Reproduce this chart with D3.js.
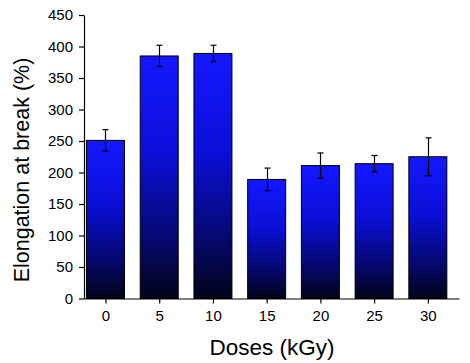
<!DOCTYPE html>
<html>
<head>
<meta charset="utf-8">
<script src="https://cdn.jsdelivr.net/npm/d3@7"></script>
<style>
  body { margin: 0; background: #fff; }
  text { font-family: "Liberation Sans", Arial, sans-serif; fill: #000; }
</style>
</head>
<body>
<svg id="chart" width="470" height="363"></svg>
<script>
const doses = [0, 5, 10, 15, 20, 25, 30];
const elongation = [251, 385, 389, 189, 211, 214, 225];
const errors = [17, 17, 13, 18, 20, 13, 30];
const yTicks = [0, 50, 100, 150, 200, 250, 300, 350, 400, 450];

const svg = d3.select("#chart");
const plotL = 84, plotR = 459, plotT = 15, plotB = 298.5;

const x = d3.scaleLinear().domain([-2, 32.9]).range([plotL, plotR]);
const y = d3.scaleLinear().domain([0, 450]).range([plotB, plotT]);
const barW = 38;

// vertical blue -> black fade, per bar
const grad = svg.append("defs").append("linearGradient")
    .attr("id", "barGrad")
    .attr("x1", 0).attr("y1", 0).attr("x2", 0).attr("y2", 1);
grad.append("stop").attr("offset", "0%").attr("stop-color", "#1418ff");
grad.append("stop").attr("offset", "40%").attr("stop-color", "#0a0fd8");
grad.append("stop").attr("offset", "75%").attr("stop-color", "#050870");
grad.append("stop").attr("offset", "100%").attr("stop-color", "#030318");

const data = doses.map((d, i) => ({ dose: d, val: elongation[i], err: errors[i] }));

svg.append("g").selectAll("rect")
    .data(data)
    .join("rect")
    .attr("x", d => x(d.dose) - barW / 2)
    .attr("y", d => y(d.val))
    .attr("width", barW)
    .attr("height", d => y(0) - y(d.val))
    .attr("fill", "url(#barGrad)")
    .attr("stroke", "#000")
    .attr("stroke-width", 1);

const eb = svg.append("g").attr("stroke", "#000").attr("stroke-width", 1.2);
data.forEach(d => {
    const cx = Math.round(x(d.dose)) + 0.5;
    eb.append("line").attr("x1", cx).attr("x2", cx)
        .attr("y1", y(d.val + d.err)).attr("y2", y(d.val - d.err));
    [d.val + d.err, d.val - d.err].forEach(v => {
        eb.append("line").attr("x1", cx - 3).attr("x2", cx + 3)
            .attr("y1", y(v)).attr("y2", y(v));
    });
});

const yAxis = svg.append("g")
    .attr("transform", `translate(${plotL},0)`)
    .call(d3.axisLeft(y).tickValues(yTicks).tickSize(5).tickSizeOuter(0).tickPadding(6));
const xAxis = svg.append("g")
    .attr("transform", `translate(0,${plotB})`)
    .call(d3.axisBottom(x).tickValues(doses).tickSize(5).tickSizeOuter(0).tickPadding(7));

[yAxis, xAxis].forEach(a => {
    a.selectAll("text").style("font-size", "15px").style("font-family", "Liberation Sans, Arial, sans-serif");
    a.selectAll("line, path").attr("stroke", "#000").attr("stroke-width", 1.2);
});

svg.append("text")
    .attr("x", 272).attr("y", 355)
    .attr("text-anchor", "middle")
    .style("font-size", "22.5px")
    .text("Doses (kGy)");

svg.append("text")
    .attr("transform", "translate(29,170) rotate(-90)")
    .attr("text-anchor", "middle")
    .style("font-size", "21.5px")
    .text("Elongation at break (%)");
</script>
</body>
</html>
